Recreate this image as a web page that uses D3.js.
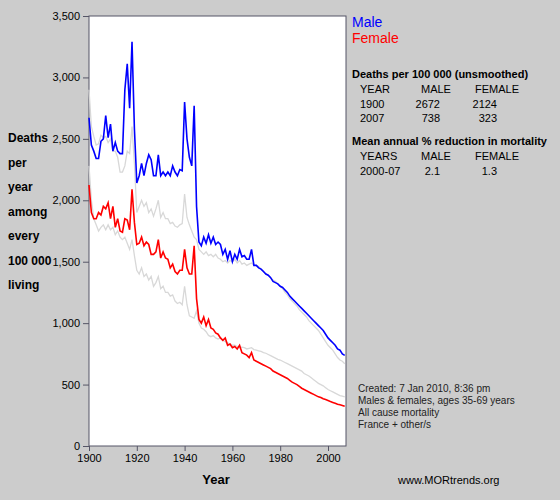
<!DOCTYPE html>
<html><head><meta charset="utf-8">
<script src="https://cdn.jsdelivr.net/npm/d3@7"></script>
<style>body{margin:0;background:#cccccc}svg{font-family:"Liberation Sans",Arial,sans-serif}</style>
</head><body><div id="chart"></div>
<script>
// Years 1900..2007
const years = d3.range(1900, 2008)

const male = [2672,2450,2400,2340,2340,2480,2500,2690,2510,2620,2400,2470,2400,2380,2380,2900,3110,2750,3290,2580,
  2140,2200,2300,2200,2300,2370,2330,2200,2200,2370,2200,2230,2200,2230,2200,2280,2230,2200,2250,2240,
  2800,2500,2350,2280,2770,1950,1660,1630,1700,1650,1720,1650,1700,1640,1660,1640,1560,1600,1520,1590,
  1500,1560,1520,1600,1540,1550,1520,1520,1600,1470,1470,1450,1440,1420,1400,1390,1370,1340,1330,1320,
  1300,1290,1270,1250,1220,1200,1180,1160,1140,1120,1100,1080,1060,1040,1020,1000,980,960,940,910,
  880,860,840,820,790,780,750,738]
const female = [2124,1900,1850,1850,1900,1880,1950,1930,1980,1850,1950,1780,1850,1750,1740,1850,1840,1760,2090,1820,
  1640,1650,1700,1630,1660,1640,1560,1560,1580,1680,1530,1580,1530,1520,1450,1480,1420,1400,1430,1430,
  1600,1450,1400,1400,1630,1200,1030,1000,1050,980,1030,960,950,920,910,880,860,880,820,830,
  800,810,790,820,760,750,740,720,760,700,690,680,670,660,650,640,630,610,600,590,
  580,570,560,550,535,520,510,500,485,470,460,450,440,430,420,410,400,395,385,378,
  370,362,355,348,340,335,330,323]
const maleOther = [2900,2600,2520,2450,2460,2530,2510,2520,2470,2500,2400,2400,2350,2230,2230,2280,2400,2380,2600,2300,
  1900,1950,2000,1950,1980,1900,1930,1870,1930,2000,1860,1900,1850,1850,1810,1820,1790,1780,1800,1810,
  2050,1860,1800,1750,1700,1680,1600,1580,1560,1580,1550,1560,1540,1560,1530,1520,1500,1510,1490,1510,
  1500,1520,1490,1510,1480,1490,1470,1480,1490,1470,1470,1460,1440,1420,1400,1390,1370,1350,1340,1320,
  1300,1280,1250,1230,1200,1180,1160,1140,1110,1090,1070,1050,1020,1000,980,960,940,910,880,850,
  820,800,780,750,720,700,690,670]
const femaleOther = [2280,2000,1850,1800,1750,1780,1800,1760,1800,1760,1780,1720,1750,1700,1680,1700,1650,1600,1680,1550,
  1430,1400,1450,1380,1400,1350,1380,1300,1330,1380,1280,1300,1250,1250,1220,1230,1180,1160,1170,1150,
  1300,1150,1060,1050,1040,1100,1000,960,950,930,900,890,900,880,870,880,860,850,840,830,
  820,820,810,800,805,800,790,795,800,785,780,775,770,760,755,745,735,725,715,705,
  700,690,680,670,660,650,640,630,620,610,590,580,570,555,540,525,510,500,490,475,
  460,450,440,430,420,410,405,400]

const yTicks = d3.range(0, 3501, 500)
const xTicks = d3.range(1900, 2001, 20)

const svg = d3.select("#chart").append("svg").attr("width", 560).attr("height", 500)

const x = d3.scaleLinear().domain([1900, 2000]).range([89, 328])
const y = d3.scaleLinear().domain([0, 3500]).range([446, 16])

// plot area
svg.append("rect").attr("x", 89).attr("y", 16).attr("width", 257).attr("height", 430)
    .attr("fill", "white").attr("stroke", "#556")

const line = d3.line().x((d, i) => x(years[i])).y(d => y(d))

function drawSeries(values, colour, width) {
    svg.append("path").datum(values)
        .attr("d", line).attr("fill", "none")
        .attr("stroke", colour).attr("stroke-width", width)
}
drawSeries(maleOther, "#d8d8d8", 1.3)
drawSeries(femaleOther, "#d8d8d8", 1.3)
drawSeries(male, "#0000ff", 1.6)
drawSeries(female, "#ff0000", 1.6)

// axes
svg.append("g").attr("transform", "translate(89,0)")
    .call(d3.axisLeft(y).tickValues(yTicks).tickSize(6).tickSizeOuter(0))
    .call(g => g.select(".domain").remove())
    .call(g => g.selectAll("line").attr("stroke", "#556"))
    .call(g => g.selectAll("text").attr("font-size", 11).attr("fill", "#000").attr("font-family", "Liberation Sans, Arial"))
svg.append("g").attr("transform", "translate(0,446)")
    .call(d3.axisBottom(x).tickValues(xTicks).tickFormat(d3.format("d")).tickSize(5).tickSizeOuter(0))
    .call(g => g.select(".domain").remove())
    .call(g => g.selectAll("line").attr("stroke", "#556"))
    .call(g => g.selectAll("text").attr("font-size", 11).attr("fill", "#000").attr("font-family", "Liberation Sans, Arial"))

// y label
const yLabel = ["Deaths", "per", "year", "among", "every", "100 000", "living"]
svg.append("g").selectAll("text").data(yLabel).join("text")
    .attr("x", 8).attr("y", (d, i) => 142 + i * 24.5)
    .attr("font-size", 12).attr("font-weight", "bold").text(d => d)

svg.append("text").attr("x", 216).attr("y", 484).attr("text-anchor", "middle")
    .attr("font-size", 13).attr("font-weight", "bold").text("Year")

// legend
svg.append("text").attr("x", 352).attr("y", 27).attr("font-size", 14).attr("fill", "#0000ff").text("Male")
svg.append("text").attr("x", 352).attr("y", 43).attr("font-size", 14).attr("fill", "#ff0000").text("Female")

// summary tables
const t1 = [["YEAR", "MALE", "FEMALE"], ["1900", "2672", "2124"], ["2007", "738", "323"]]
const t2 = [["YEARS", "MALE", "FEMALE"], ["2000-07", "2.1", "1.3"]]
const tg = svg.append("g").attr("font-size", 11)
tg.append("text").attr("x", 352).attr("y", 78).attr("font-weight", "bold").text("Deaths per 100 000 (unsmoothed)")
t1.forEach((r, i) => {
    const yy = 93 + i * 14.5
    tg.append("text").attr("x", 360).attr("y", yy).text(r[0])
    if (i === 0) {
        tg.append("text").attr("x", 421).attr("y", yy).text(r[1])
        tg.append("text").attr("x", 475).attr("y", yy).text(r[2])
    } else {
        tg.append("text").attr("x", 440).attr("y", yy).attr("text-anchor", "end").text(r[1])
        tg.append("text").attr("x", 497).attr("y", yy).attr("text-anchor", "end").text(r[2])
    }
})
tg.append("text").attr("x", 352).attr("y", 145).attr("font-weight", "bold").text("Mean annual % reduction in mortality")
t2.forEach((r, i) => {
    const yy = 160 + i * 15
    tg.append("text").attr("x", 360).attr("y", yy).text(r[0])
    if (i === 0) {
        tg.append("text").attr("x", 421).attr("y", yy).text(r[1])
        tg.append("text").attr("x", 475).attr("y", yy).text(r[2])
    } else {
        tg.append("text").attr("x", 440).attr("y", yy).attr("text-anchor", "end").text(r[1])
        tg.append("text").attr("x", 497).attr("y", yy).attr("text-anchor", "end").text(r[2])
    }
})

// notes
const notes = ["Created: 7 Jan 2010, 8:36 pm", "Males & females, ages 35-69 years", "All cause mortality", "France + other/s"]
svg.append("g").selectAll("text").data(notes).join("text")
    .attr("x", 358).attr("y", (d, i) => 392 + i * 12).attr("font-size", 10).attr("fill", "#222").text(d => d)
svg.append("text").attr("x", 398).attr("y", 484).attr("font-size", 11).text("www.MORtrends.org")
</script></body></html>
